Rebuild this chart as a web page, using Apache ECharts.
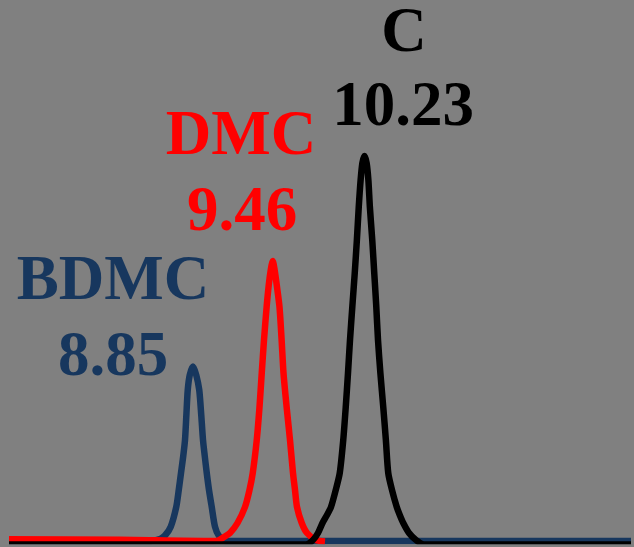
<!DOCTYPE html>
<html>
<head>
<meta charset="utf-8">
<script src="https://cdn.jsdelivr.net/npm/echarts@6/dist/echarts.min.js"></script>
<style>
  html, body { margin: 0; padding: 0; background: #808080; }
  #chart { width: 634px; height: 547px; }
</style>
</head>
<body>
<div id="chart"></div>
<script>
// Retention time (min) and detector signal (a.u.)
var bdmcTime = [7.400, 8.528, 8.608, 8.648, 8.694, 8.738, 8.758, 8.776, 8.794, 8.808, 8.819, 8.830, 8.846, 8.872, 8.898, 8.922, 8.938, 8.952, 8.966, 8.982, 9.000, 9.022, 9.048, 9.080, 9.136, 12.376];
var bdmcSignal = [0, 0, 2, 5.5, 14.3, 34, 51, 68, 85, 101, 126, 151, 166, 174.5, 166, 151, 126, 101, 85, 68, 51, 34, 14.3, 5, 0, 0];

var dmcTime = [7.400, 8.288, 9.024, 9.072, 9.120, 9.168, 9.228, 9.288, 9.324, 9.350, 9.382, 9.404, 9.422, 9.440, 9.461, 9.478, 9.494, 9.510, 9.525, 9.542, 9.564, 9.581, 9.596, 9.621, 9.648, 9.672, 9.688, 9.704, 9.742, 9.784, 9.856, 9.928];
var dmcSignal = [1.75, 1.2, 0, 0.5, 4, 8, 18, 34, 51, 68, 101, 134, 168, 201, 234, 256, 271, 280, 271, 256, 234, 201, 168, 134, 101, 68, 51, 34, 18, 8, 1, -0.5];

var cTime = [7.400, 9.776, 9.832, 9.872, 9.908, 9.944, 9.976, 10.014, 10.046, 10.074, 10.094, 10.112, 10.128, 10.147, 10.166, 10.183, 10.198, 10.213, 10.227, 10.244, 10.261, 10.275, 10.287, 10.306, 10.322, 10.338, 10.352, 10.371, 10.394, 10.415, 10.434, 10.464, 10.502, 10.526, 10.554, 10.600, 10.656, 10.720, 12.376];
var cSignal = [-3.5, -3.5, 1, 8, 18, 26, 34, 51, 68, 101, 134, 168, 201, 235, 268, 301, 334, 361, 378, 385, 378, 361, 334, 301, 268, 235, 201, 168, 134, 101, 68, 51, 34, 26, 18, 8, 1, -3.5, -3.5];

var compoundNames = ['BDMC', 'DMC', 'C'];
var retentionLabels = ['8.85', '9.46', '10.23'];
var seriesColors = ['#17375E', '#FF0000', '#000000'];

function pairs(t, s) { return t.map(function (v, i) { return [v, s[i]]; }); }

var chart = echarts.init(document.getElementById('chart'));
var font = 'bold 63px "Liberation Serif", "Times New Roman", serif';
function label(text, x, y, color) {
  return {
    type: 'text', x: x, y: y, z: 100,
    style: { text: text, fill: color, font: font, align: 'center', verticalAlign: 'middle' }
  };
}
function line(name, data, color) {
  return {
    name: name, type: 'line', data: data, showSymbol: false, symbol: 'none',
    smooth: 0.25, clip: true,
    lineStyle: { color: color, width: 6.5, cap: 'butt', join: 'round' }
  };
}

chart.setOption({
  animation: false,
  backgroundColor: '#808080',
  grid: { left: 9, right: 3, top: 0, bottom: 6 },
  xAxis: { type: 'value', min: 7.4, max: 12.376, show: false },
  yAxis: { type: 'value', min: 0, max: 541, show: false },
  series: [
    line(compoundNames[0], pairs(bdmcTime, bdmcSignal), seriesColors[0]),
    line(compoundNames[1], pairs(dmcTime, dmcSignal), seriesColors[1]),
    line(compoundNames[2], pairs(cTime, cSignal), seriesColors[2])
  ],
  graphic: [
    label(compoundNames[2], 404, 35, seriesColors[2]),
    label(retentionLabels[2], 403, 109, seriesColors[2]),
    label(compoundNames[1], 241, 138, seriesColors[1]),
    label(retentionLabels[1], 242, 214, seriesColors[1]),
    label(compoundNames[0], 113, 283, seriesColors[0]),
    label(retentionLabels[0], 113, 359, seriesColors[0])
  ]
});
</script>
</body>
</html>
